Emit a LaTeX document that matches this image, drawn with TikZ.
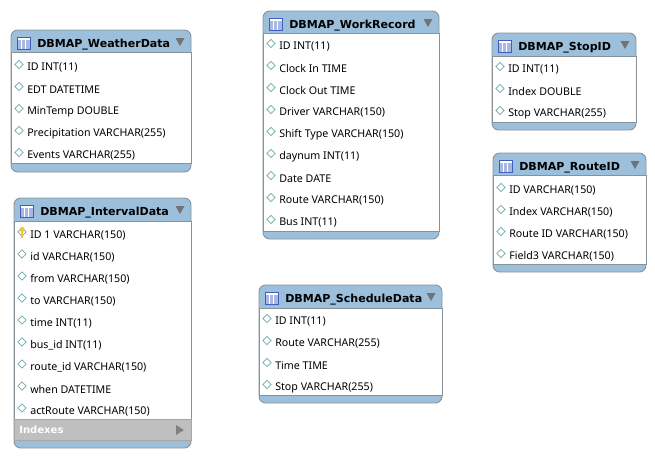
\documentclass[tikz,border=0pt]{standalone}
\usepackage{fontspec}
\setmainfont{Noto Sans}
\newfontfamily\headfont{DejaVu Sans}[Scale=0.92]
\usepackage{tikz}
\usetikzlibrary{positioning,calc,shapes.geometric}
\definecolor{headblue}{HTML}{9CC0DB}
\definecolor{edgegray}{HTML}{8A9299}
\definecolor{rowdiamond}{HTML}{6FA8AC}
\definecolor{iconblue}{HTML}{3F5FC0}
\definecolor{keygold}{HTML}{F2C832}
\tikzset{
	tablebody/.style={draw=edgegray, line width=.7pt, fill=headblue, rounded corners=5pt},
	tablemid/.style={fill=white, draw=edgegray, line width=.6pt},
	tabletitle/.style={anchor=west, inner sep=0pt, font=\headfont\bfseries\fontsize{9}{10}\selectfont, text=black},
	rowtext/.style={anchor=west, inner sep=0pt, font=\fontsize{8}{9}\selectfont, text=black},
	rowmark/.style={diamond, draw=rowdiamond, fill=white, line width=.5pt, inner sep=0pt, minimum size=6.4pt},
	downtip/.style={fill=black!55},
}
% name, left, top, right, bottom, head bottom, foot top, first row, title, rows
\newcommand{\dbtable}[9]{
	\def\tabName{#1}\def\tabL{#2}\def\tabT{#3}\def\tabR{#4}\def\tabB{#5}\def\tabHead{#6}\def\tabFoot{#7}\def\tabRow{#8}
	\def\tabTitle{#9}
	\dbtablerows
}
\newcommand{\dbtablerows}[1]{
	\draw[tablebody] (\tabL,\tabT) rectangle (\tabR,\tabB);
	\draw[tablemid] (\tabL,\tabHead) rectangle (\tabR,\tabFoot);
	% the icon
	\draw[iconblue, fill=white, line width=.5pt] (\tabL+6.5,\tabT+7) rectangle (\tabL+19.5,\tabT+19);
	\fill[iconblue!45] (\tabL+7,\tabT+9.5) rectangle (\tabL+19,\tabT+18.5);
	\foreach \Val in {10.5,14.5}
		\draw[white, line width=.4pt] (\tabL+\Val,\tabT+9.5) -- ++(0,9);
	\node[tabletitle] (\tabName-title) at (\tabL+26,\tabT+14.5) {\tabTitle};
	\fill[downtip] (\tabR-15.5,\tabT+8) -- (\tabR-6.5,\tabT+8) -- (\tabR-11,\tabT+16) -- cycle;
	% the rows
	\foreach \Txt [count=\i from 0] in {#1} {
		\node[rowmark] (\tabName-mark-\i) at (\tabL+8,\tabRow-1.5+\i*22) {};
		\node[rowtext] (\tabName-row-\i) at (\tabL+16,\tabRow+1.5+\i*22) {\Txt};
	}
}

\begin{document}
\begin{tikzpicture}[x=.75pt, y=-.75pt]
\useasboundingbox (0,0) rectangle (655,458);

\dbtable{weather}{11}{30}{191}{172}{52}{163}{66}{DBMAP\_WeatherData}
	{ID INT(11), EDT DATETIME, MinTemp DOUBLE, Precipitation VARCHAR(255), Events VARCHAR(255)}

\dbtable{work}{263}{11}{439}{239}{33}{231}{45}{DBMAP\_WorkRecord}
	{ID INT(11), Clock In TIME, Clock Out TIME, Driver VARCHAR(150), Shift Type VARCHAR(150),
	daynum INT(11), Date DATE, Route VARCHAR(150), Bus INT(11)}

\dbtable{stop}{492}{33}{636}{130}{56}{122}{68}{DBMAP\_StopID}
	{ID INT(11), Index DOUBLE, Stop VARCHAR(255)}

\dbtable{route}{493}{153}{646}{272}{175}{264}{189}{DBMAP\_RouteID}
	{ID VARCHAR(150), Index VARCHAR(150), Route ID VARCHAR(150), Field3 VARCHAR(150)}

\dbtable{schedule}{259}{285}{442}{403}{308}{395}{320}{DBMAP\_ScheduleData}
	{ID INT(11), Route VARCHAR(255), Time TIME, Stop VARCHAR(255)}

\dbtable{interval}{14}{198}{191}{448}{221}{440}{233.5}{DBMAP\_IntervalData}
	{ID 1 VARCHAR(150), id VARCHAR(150), from VARCHAR(150), to VARCHAR(150), time INT(11),
	bus\_id INT(11), route\_id VARCHAR(150), when DATETIME, actRoute VARCHAR(150)}

% the key over the first mark
\fill[white] (interval-mark-0.north west) rectangle (interval-mark-0.south east);
\draw[keygold, line width=1.4pt] (interval-mark-0.center) ++(0,-2) -- ++(0,8);
\fill[keygold] (interval-mark-0.center) ++(0,-2.5) circle (2.6);

% the indexes bar
\draw[fill=black!25, draw=black!35, line width=.4pt] (14,419) rectangle (191,440);
\node[rowtext, text=white, font=\headfont\bfseries\fontsize{8.2}{10}\selectfont] (interval-idx) at (19,430) {Indexes};
\fill[black!50] (176,425) -- (184,430) -- (176,435) -- cycle;
\end{tikzpicture}
\end{document}
